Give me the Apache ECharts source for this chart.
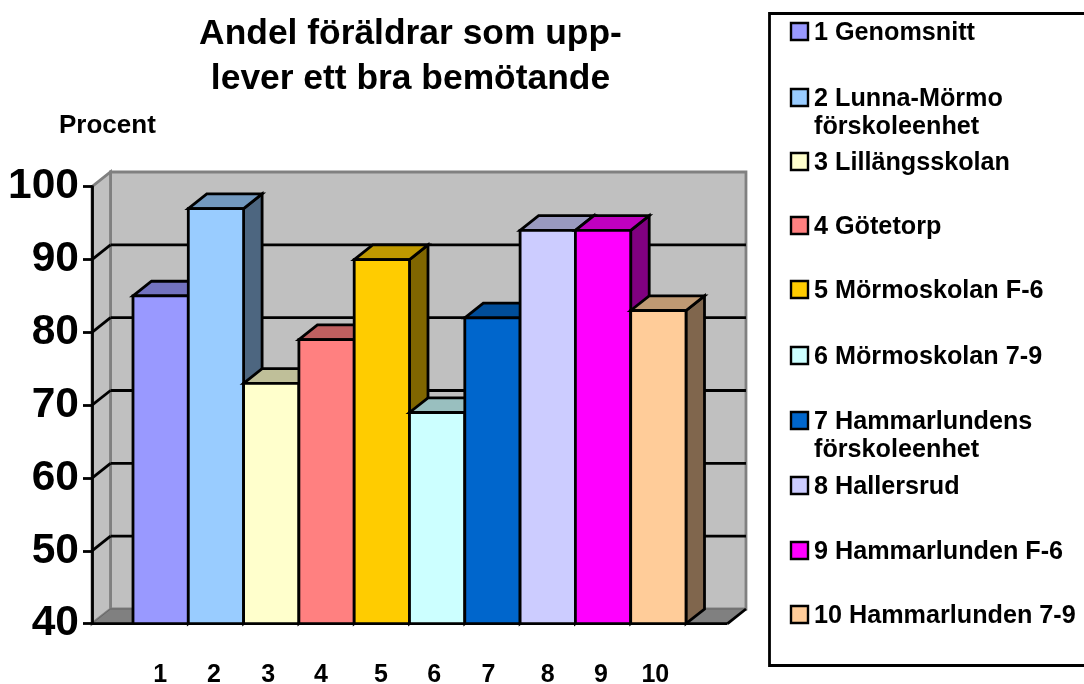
<!DOCTYPE html>
<html>
<head>
<meta charset="utf-8">
<style>
html, body { margin: 0; padding: 0; background: #fff; overflow: hidden; }
#chart { width: 1084px; height: 684px; }
</style>
<script src="https://cdn.jsdelivr.net/npm/echarts@6/dist/echarts.min.js"></script>
</head>
<body>
<div id="chart"></div>
<script>
const tickLabels = ['1', '2', '3', '4', '5', '6', '7', '8', '9', '10']
const values = [85, 97, 73, 79, 90, 69, 82, 94, 94, 83]
const colors = ['#9999FF', '#99CCFF', '#FFFFCC', '#FF8080', '#FFCC00', '#CCFFFF', '#0066CC', '#CCCCFF', '#FF00FF', '#FFCC99']
const seriesNames = [
    '1 Genomsnitt',
    '2 Lunna-Mörmo\nförskoleenhet',
    '3 Lillängsskolan',
    '4 Götetorp',
    '5 Mörmoskolan F-6',
    '6 Mörmoskolan 7-9',
    '7 Hammarlundens\nförskoleenhet',
    '8 Hallersrud',
    '9 Hammarlunden F-6',
    '10 Hammarlunden 7-9'
]
const gridValues = [50, 60, 70, 80, 90]

// the x labels were hand placed in the original, so they sit a little off the bar centres
const labelNudge = [0.5, 2, 3, 5.5, 1, 3, 4, 0, 2, 3]

const FONT = '"Liberation Sans", Arial, sans-serif'
const DEPTH_X = 18.5
const DEPTH_Y = 14.7
const GAP_BANDS = 0.75 // wall space either side of the bars, in bar widths
const INK = { stroke: '#000', lineWidth: 2.8, lineJoin: 'miter' }

const shade = (hex, k) => {
    const n = parseInt(hex.slice(1), 16)
    const c = [n >> 16, (n >> 8) & 255, n & 255].map(v => Math.round(v * k))
    return `rgb(${c.join(',')})`
}

const poly = (points, style) => ({ type: 'polygon', shape: { points }, style })
const line = (x1, y1, x2, y2, style) => ({ type: 'line', shape: { x1, y1, x2, y2 }, style })

// back wall, side wall, floor and gridlines
const renderWalls = (params, api) => {
    const band = api.size([1, 0])[0]
    const xl = api.coord([0, 40])[0] - band / 2 - 41 // front left, on the y axis
    const xr = api.coord([9, 40])[0] + band / 2 + band * GAP_BANDS
    const yb = api.coord([0, 40])[1]
    const yt = api.coord([0, 100])[1]
    const dx = DEPTH_X
    const dy = DEPTH_Y
    const grey = { stroke: '#808080', lineWidth: 2.8 }
    const black = { stroke: '#000', lineWidth: 2.8 }
    const children = [
        poly([[xl + dx, yt - dy], [xr + dx, yt - dy], [xr + dx, yb - dy], [xl + dx, yb - dy]], { fill: '#C0C0C0', ...grey }),
        poly([[xl, yt], [xl + dx, yt - dy], [xl + dx, yb - dy], [xl, yb]], { fill: '#C0C0C0', ...grey }),
        poly([[xl, yb], [xl + dx, yb - dy], [xr + dx, yb - dy], [xr, yb]], { fill: '#808080', stroke: '#666', lineWidth: 1 })
    ]
    gridValues.forEach(v => {
        const y = api.coord([0, v])[1]
        children.push(line(xl + dx, y - dy, xr + dx, y - dy, black))
        children.push(line(xl, y, xl + dx, y - dy, black))
    })
    children.push(line(xl, yb, xr, yb, black))
    children.push(line(xr, yb, xr + dx, yb - dy, black))
    return { type: 'group', children }
}

// one 3D bar: side and top first, then the front face
const renderBar = (params, api) => {
    const i = api.value(0)
    const band = api.size([1, 0])[0]
    const [cx, yTop] = api.coord([i, api.value(1)])
    const yBase = api.coord([i, 40])[1]
    const x0 = cx - band / 2
    const x1 = cx + band / 2
    const c = colors[i]
    return {
        type: 'group',
        children: [
            poly([[x1, yTop], [x1 + DEPTH_X, yTop - DEPTH_Y], [x1 + DEPTH_X, yBase - DEPTH_Y], [x1, yBase]], { fill: shade(c, 0.5), ...INK }),
            poly([[x0, yTop], [x0 + DEPTH_X, yTop - DEPTH_Y], [x1 + DEPTH_X, yTop - DEPTH_Y], [x1, yTop]], { fill: shade(c, 0.75), ...INK }),
            poly([[x0, yTop], [x1, yTop], [x1, yBase], [x0, yBase]], { fill: c, ...INK })
        ]
    }
}

// legend box is drawn by hand: the two-line entries do not fit the built-in layout
// its right side runs off the picture, as in the original
const LEGEND_Y = [23, 89, 153, 217, 281, 347, 412, 477, 542, 606]
const legendGraphics = [
    { type: 'rect', shape: { x: 769.5, y: 13.5, width: 340, height: 652 }, style: { fill: '#fff', stroke: '#000', lineWidth: 2.8 }, z: 0 }
]
seriesNames.forEach((name, i) => {
    legendGraphics.push({
        type: 'rect',
        shape: { x: 791, y: LEGEND_Y[i], width: 17, height: 17 },
        style: { fill: colors[i], stroke: '#000', lineWidth: 2.4 },
        z: 1
    })
    legendGraphics.push({
        type: 'text',
        x: 814,
        y: LEGEND_Y[i] - 4,
        style: { text: name, font: `bold 25.2px ${FONT}`, fill: '#000', lineHeight: 28 },
        z: 1
    })
})

const chartIns = echarts.init(document.getElementById('chart'))
chartIns.setOption({
    animation: false,
    backgroundColor: '#fff',
    textStyle: { fontFamily: FONT },
    title: [
        {
            text: 'Andel föräldrar som upp-\nlever ett bra bemötande',
            left: 405.5,
            top: 7,
            textAlign: 'center',
            textStyle: { fontFamily: FONT, fontWeight: 'bold', fontSize: 35.4, lineHeight: 45, color: '#000' }
        },
        {
            text: 'Procent',
            left: 54,
            top: 108,
            textStyle: { fontFamily: FONT, fontWeight: 'bold', fontSize: 26, color: '#000' }
        }
    ],
    // outerBoundsMode off: otherwise the big labels make ECharts shrink the grid
    grid: { left: 133, width: 553, top: 186.7, height: 437, outerBoundsMode: 'none' },
    xAxis: {
        type: 'category',
        data: tickLabels.map((value, i) => ({ value, textStyle: { padding: [0, labelNudge[i] * 2, 0, 0] } })),
        axisLine: { show: false },
        axisTick: { show: false },
        axisLabel: { fontFamily: FONT, fontWeight: 'bold', fontSize: 25, color: '#000', margin: 39, interval: 0 }
    },
    yAxis: {
        type: 'value',
        min: 40,
        max: 100,
        interval: 10,
        offset: 41,
        z: 5,
        splitLine: { show: false },
        axisLine: { show: true, lineStyle: { color: '#000', width: 2.8 } },
        axisTick: { show: true, length: 9, lineStyle: { color: '#000', width: 2.8 } },
        axisLabel: { fontFamily: FONT, fontWeight: 'bold', fontSize: 42.5, color: '#000', margin: 13 }
    },
    series: [
        { type: 'custom', renderItem: renderWalls, data: [[0, 40]], silent: true, z: 1 },
        {
            type: 'custom',
            renderItem: renderBar,
            data: values.map((v, i) => [i, v]),
            encode: { x: 0, y: 1 },
            silent: true,
            z: 2
        }
    ],
    graphic: legendGraphics
})
</script>
</body>
</html>
